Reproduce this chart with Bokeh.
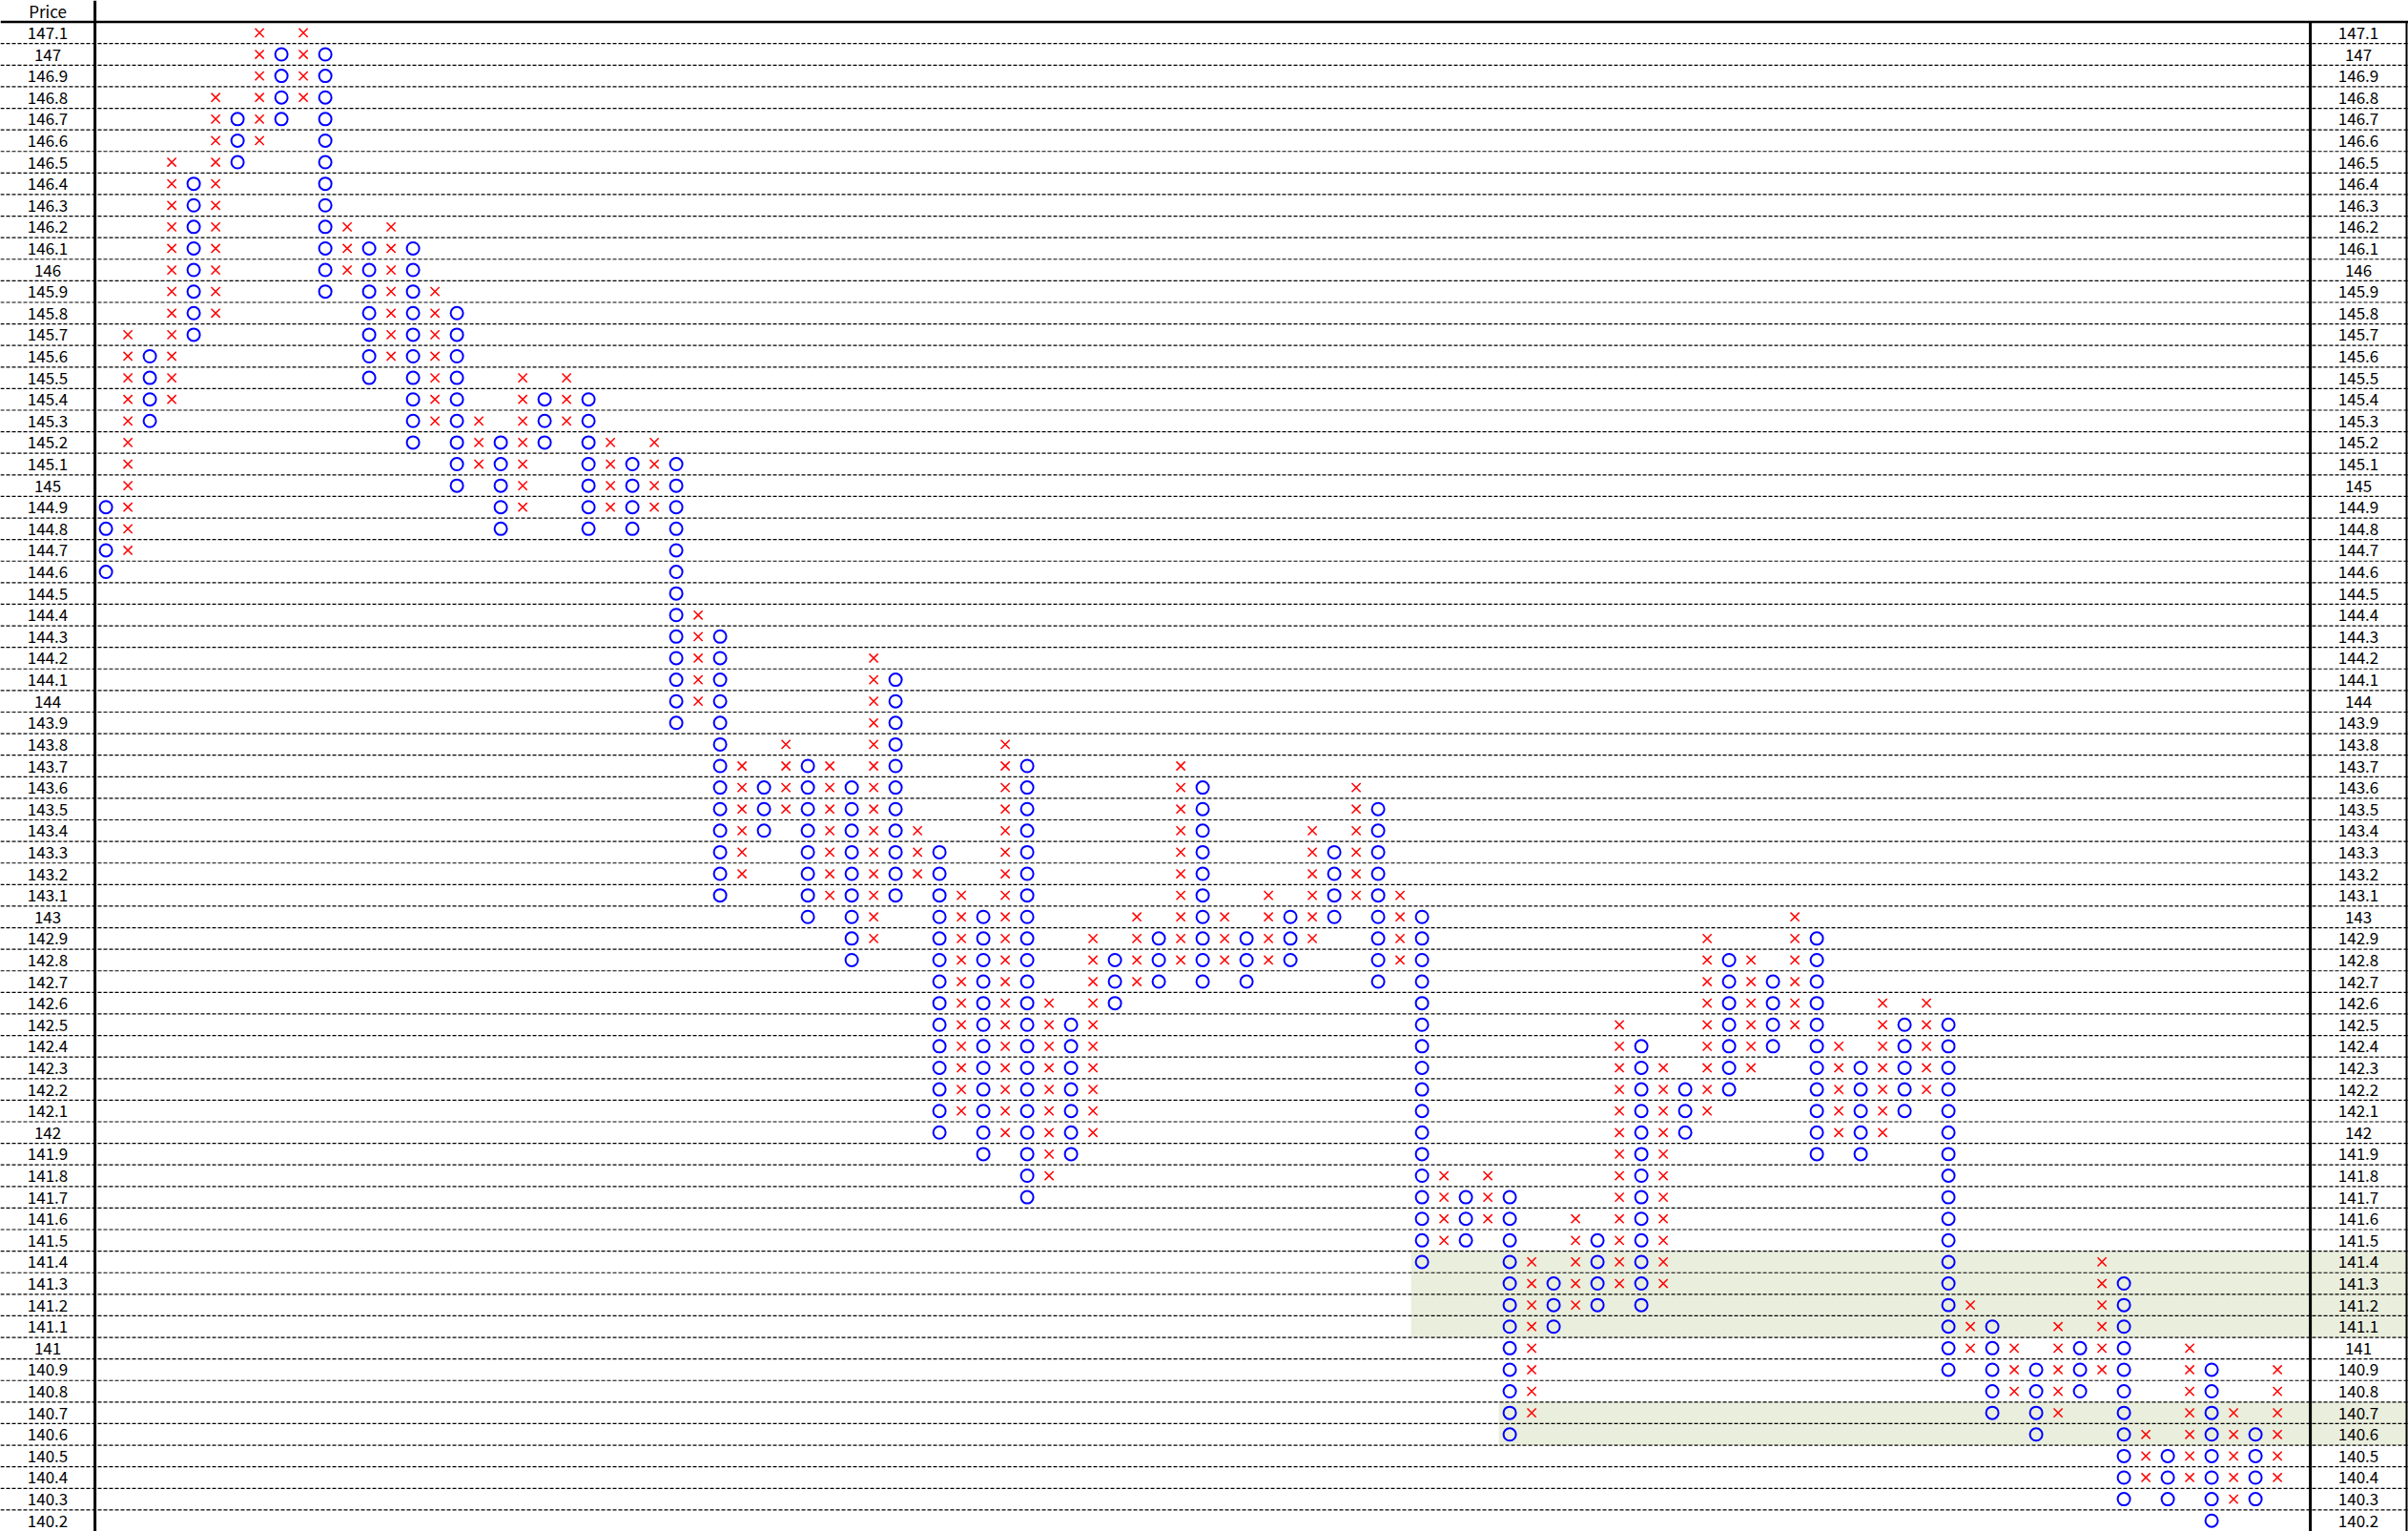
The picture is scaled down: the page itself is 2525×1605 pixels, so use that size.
from bokeh.plotting import figure
from bokeh.models import Range1d
from bokeh.embed import file_html
from bokeh.resources import INLINE
from bokeh.core.properties import value

# ---------------- data ----------------
# price levels shown on the axis (top to bottom), box size 0.1
prices = [147.1, 147.0, 146.9, 146.8, 146.7, 146.6, 146.5, 146.4, 146.3, 146.2,
          146.1, 146.0, 145.9, 145.8, 145.7, 145.6, 145.5, 145.4, 145.3, 145.2,
          145.1, 145.0, 144.9, 144.8, 144.7, 144.6, 144.5, 144.4, 144.3, 144.2,
          144.1, 144.0, 143.9, 143.8, 143.7, 143.6, 143.5, 143.4, 143.3, 143.2,
          143.1, 143.0, 142.9, 142.8, 142.7, 142.6, 142.5, 142.4, 142.3, 142.2,
          142.1, 142.0, 141.9, 141.8, 141.7, 141.6, 141.5, 141.4, 141.3, 141.2,
          141.1, 141.0, 140.9, 140.8, 140.7, 140.6, 140.5, 140.4, 140.3, 140.2]
price_labels = [f"{v:g}" for v in prices]
header_label = "Price"

# point & figure columns: type, lowest box, highest box
col_type = ["O", "X"] * 50
col_low = [144.6, 144.7, 145.3, 145.4, 145.7, 145.8, 146.5, 146.6, 146.7, 146.8,
           145.9, 146.0, 145.5, 145.6, 145.2, 145.3, 145.0, 145.1, 144.8, 144.9,
           145.2, 145.3, 144.8, 144.9, 144.8, 144.9, 143.9, 144.0, 143.1, 143.2,
           143.4, 143.5, 143.0, 143.1, 142.8, 142.9, 143.1, 143.2, 142.0, 142.1,
           141.9, 142.0, 141.7, 141.8, 141.9, 142.0, 142.6, 142.7, 142.7, 142.8,
           142.7, 142.8, 142.7, 142.8, 142.8, 142.9, 143.0, 143.1, 142.7, 142.8,
           141.4, 141.5, 141.5, 141.6, 140.6, 140.7, 141.1, 141.2, 141.2, 141.3,
           141.2, 141.3, 142.0, 142.1, 142.2, 142.3, 142.4, 142.5, 141.9, 142.0,
           141.9, 142.0, 142.1, 142.2, 140.9, 141.0, 140.7, 140.8, 140.6, 140.7,
           140.8, 140.9, 140.3, 140.4, 140.3, 140.4, 140.2, 140.3, 140.3, 140.4]
col_high = [144.9, 145.7, 145.6, 146.5, 146.4, 146.8, 146.7, 147.1, 147.0, 147.1,
            147.0, 146.2, 146.1, 146.2, 146.1, 145.9, 145.8, 145.3, 145.2, 145.5,
            145.4, 145.5, 145.4, 145.2, 145.1, 145.2, 145.1, 144.4, 144.3, 143.7,
            143.6, 143.8, 143.7, 143.7, 143.6, 144.2, 144.1, 143.4, 143.3, 143.1,
            143.0, 143.8, 143.7, 142.6, 142.5, 142.9, 142.8, 143.0, 142.9, 143.7,
            143.6, 143.0, 142.9, 143.1, 143.0, 143.4, 143.3, 143.6, 143.5, 143.1,
            143.0, 141.8, 141.7, 141.8, 141.7, 141.4, 141.3, 141.6, 141.5, 142.5,
            142.4, 142.3, 142.2, 142.9, 142.8, 142.8, 142.7, 143.0, 142.9, 142.4,
            142.3, 142.6, 142.5, 142.6, 142.5, 141.2, 141.1, 141.0, 140.9, 141.1,
            141.0, 141.4, 141.3, 140.6, 140.5, 141.0, 140.9, 140.7, 140.6, 140.9]

# highlighted bands: price range and first column
band_low = [141.1, 140.6]
band_high = [141.4, 140.7]
band_first_col = [60, 64]

# ---------------- layout ----------------
W, H = 2525, 1605
COL_PX = 23.0          # pixel width of one column
COL0_PX = 110.6        # pixel centre of column 0
BOX = 0.1
x0 = -COL0_PX / COL_PX
x1 = (W - COL0_PX) / COL_PX
y_top = prices[0] + 1.5 * BOX
y_bot = prices[-1] - 0.5 * BOX
left_line_x = -0.5
right_line_x = len(col_type) + 0.5
edge_x = x1 - 2.0 / COL_PX

p = figure(width=W, height=H, x_range=Range1d(x0, x1), y_range=Range1d(y_bot, y_top),
           output_backend="svg", toolbar_location=None, min_border=0,
           x_axis_location=None, y_axis_location=None,
           background_fill_color="white", border_fill_color="white",
           outline_line_color=None)
p.grid.visible = False

# bands
p.quad(left=[c - 0.5 for c in band_first_col], right=[x1] * len(band_low),
       bottom=[b - BOX / 2 for b in band_low], top=[t + BOX / 2 for t in band_high],
       fill_color="#EAEEDD", line_color=None)

# dashed row separators
sep = [v - BOX / 2 for v in prices]
p.segment(x0=[x0] * len(sep), x1=[x1] * len(sep), y0=sep, y1=sep,
          line_color="black", line_width=1.2, line_dash="4 2")

# header line and vertical rules
p.segment(x0=[x0], x1=[x1], y0=[prices[0] + BOX / 2], y1=[prices[0] + BOX / 2],
          line_color="black", line_width=2.5)
p.segment(x0=[left_line_x], x1=[left_line_x], y0=[y_bot], y1=[y_top],
          line_color="black", line_width=3)
p.segment(x0=[right_line_x, edge_x], x1=[right_line_x, edge_x],
          y0=[y_bot, y_bot], y1=[prices[0] + BOX / 2] * 2,
          line_color="black", line_width=[3, 2])

# marks
xs_x, ys_x, xs_o, ys_o = [], [], [], []
for i, (t, lo, hi) in enumerate(zip(col_type, col_low, col_high)):
    for k in range(round(lo * 10), round(hi * 10) + 1):
        if t == "X":
            xs_x.append(i); ys_x.append(k / 10)
        else:
            xs_o.append(i); ys_o.append(k / 10)

p.scatter(x=xs_x, y=ys_x, marker="x", size=13, line_color="#FF0000", line_width=1.5)
p.scatter(x=xs_o, y=ys_o, marker="circle", size=13, fill_color=None,
          line_color="#0000FF", line_width=2)

# labels
font = value("Noto Sans CJK JP")
lx = (x0 + left_line_x) / 2
rx = (right_line_x + edge_x) / 2
p.text(x=[lx] * len(prices), y=prices, text=price_labels, text_align="center",
       text_baseline="middle", text_font=font, text_font_size="17px", text_color="black")
p.text(x=[rx] * len(prices), y=prices, text=price_labels, text_align="center",
       text_baseline="middle", text_font=font, text_font_size="17px", text_color="black")
p.text(x=[lx], y=[prices[0] + BOX], text=[header_label], text_align="center",
       text_baseline="middle", text_font=font, text_font_size="17px", text_color="black")

html = file_html(p, INLINE)
html = html.replace("<head>", "<head><style>html,body{margin:0;padding:0;overflow:hidden;}</style>", 1)
open("out.html", "w").write(html)
